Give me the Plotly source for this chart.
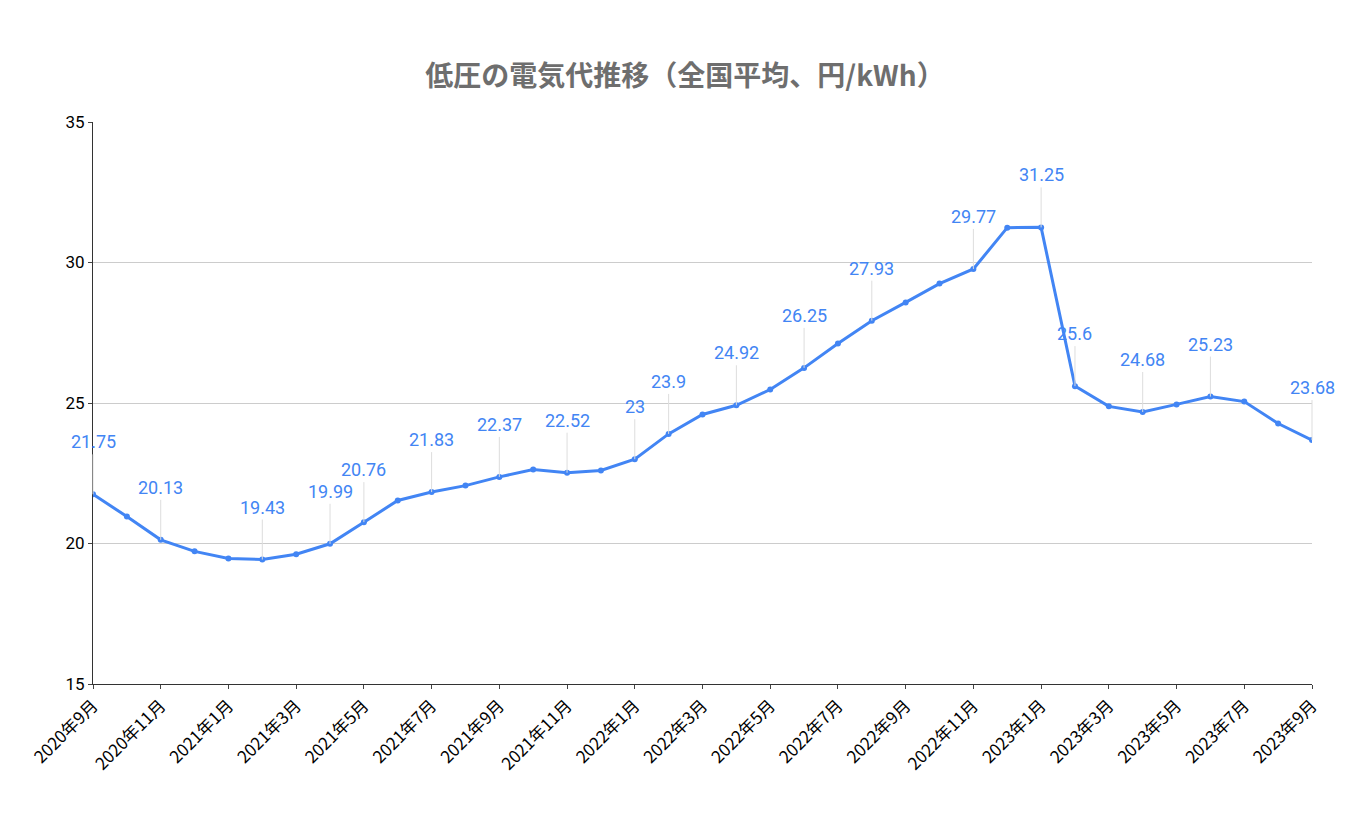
import plotly.graph_objects as go

months = ["2020年9月","2020年10月","2020年11月","2020年12月","2021年1月","2021年2月","2021年3月","2021年4月","2021年5月","2021年6月","2021年7月","2021年8月","2021年9月","2021年10月","2021年11月","2021年12月","2022年1月","2022年2月","2022年3月","2022年4月","2022年5月","2022年6月","2022年7月","2022年8月","2022年9月","2022年10月","2022年11月","2022年12月","2023年1月","2023年2月","2023年3月","2023年4月","2023年5月","2023年6月","2023年7月","2023年8月","2023年9月"]
values = [21.75,20.96,20.13,19.72,19.47,19.43,19.62,19.99,20.76,21.53,21.83,22.06,22.37,22.63,22.52,22.6,23.0,23.9,24.59,24.92,25.48,26.25,27.12,27.93,28.58,29.25,29.77,31.24,31.25,25.6,24.88,24.68,24.95,25.23,25.05,24.27,23.68]
labeled = [0,2,5,7,8,10,12,14,16,17,19,21,23,26,28,29,31,33,36]

fig = go.Figure(go.Scatter(x=months, y=values, mode="lines+markers",
    line=dict(color="#4285f4", width=3), marker=dict(size=6, color="#4285f4")))

for i in labeled:
    fig.add_annotation(x=months[i], y=values[i], text=f"{values[i]:g}",
        showarrow=True, arrowhead=0, arrowwidth=1, arrowcolor="#dddddd",
        ax=0, ay=-40, yanchor="bottom",
        font=dict(size=18, color="#4285f4", family="Roboto"))

fig.update_layout(
    width=1354, height=836, plot_bgcolor="white", paper_bgcolor="white",
    margin=dict(l=85, r=50, t=114, b=160),
    title=dict(text="<b>低圧の電気代推移（全国平均、円/kWh）</b>", x=0.5, xanchor="center", y=0.93,
               font=dict(size=28, color="#6e6e6e", family="Noto Sans CJK JP")),
    showlegend=False,
    font=dict(family="Roboto", color="#000000"),
)
fig.update_xaxes(tickvals=months[::2], tickangle=-45, tickfont=dict(size=17, family="Noto Sans CJK JP", color="#000"),
                 showgrid=False, showline=True, linecolor="#333", ticks="outside", ticklen=4,
                 range=[0, 36])
fig.update_yaxes(range=[15, 35], dtick=5, gridcolor="#cccccc", showline=True, linecolor="#333",
                 ticks="outside", ticklen=4, tickfont=dict(size=17, color="#000"), zeroline=False)
fig.write_html("out.html")
